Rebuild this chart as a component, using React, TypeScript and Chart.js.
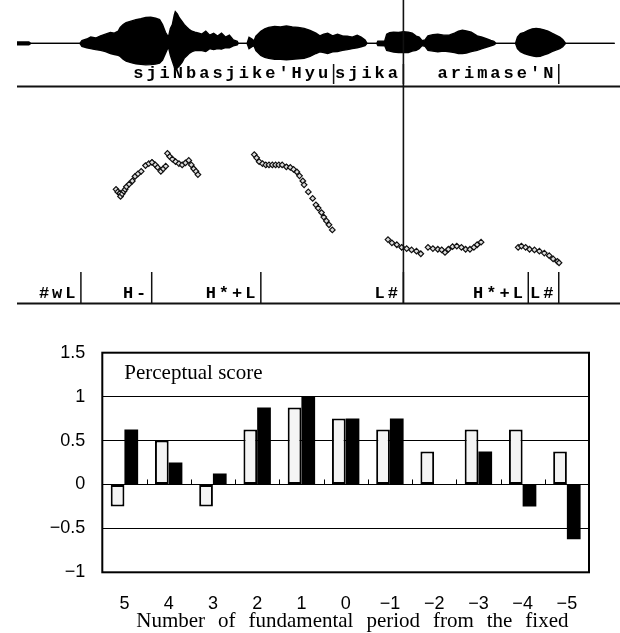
import React, { useEffect, useRef } from 'react';
import { Chart, registerables } from 'chart.js';

Chart.register(...registerables);
Chart.defaults.font.family = "'Liberation Sans', Arial, sans-serif";

// ---------------- Upper figure: waveform, F0 contour, label tiers ----------------
// time axis in arbitrary frame units
const waveTime = [12, 24, 26, 76, 78, 83, 87, 92, 97, 102, 107, 111, 115, 117, 120, 123, 128, 133, 138, 143, 148, 153, 157, 160, 163, 166, 168, 170, 172, 173, 175, 177, 180, 182, 185, 187, 190, 193, 197, 200, 204, 208, 212, 216, 220, 224, 228, 232, 236, 237, 246, 248, 251, 253, 255, 257, 260, 264, 268, 274, 280, 286, 292, 298, 304, 310, 316, 320, 324, 328, 333, 338, 343, 348, 353, 358, 362, 366, 368, 378, 379, 386, 388, 391, 395, 400, 405, 410, 414, 418, 421, 424, 427, 430, 435, 440, 446, 452, 457, 461, 465, 469, 474, 480, 485, 490, 494, 497, 499, 519, 521, 524, 528, 532, 536, 540, 544, 548, 552, 556, 560, 564, 567, 570, 620];
const waveUpper = [0.06, 0.06, 0, 0, 0.11, 0.18, 0.26, 0.22, 0.31, 0.38, 0.45, 0.42, 0.51, 0.66, 0.78, 0.86, 0.92, 0.98, 1.02, 1.07, 1.08, 1.04, 0.98, 0.78, 0.46, 0.26, 0.62, 0.78, 1.18, 1.31, 1.22, 1.06, 0.9, 0.78, 0.66, 0.58, 0.5, 0.46, 0.42, 0.38, 0.5, 0.34, 0.42, 0.3, 0.42, 0.26, 0.34, 0.14, 0.08, 0, 0, 0.25, 0.18, 0.1, 0.3, 0.38, 0.5, 0.6, 0.66, 0.7, 0.68, 0.72, 0.68, 0.66, 0.62, 0.54, 0.42, 0.31, 0.38, 0.42, 0.31, 0.38, 0.31, 0.3, 0.26, 0.34, 0.26, 0.14, 0, 0, 0.09, 0.1, 0.38, 0.44, 0.46, 0.45, 0.48, 0.46, 0.42, 0.3, 0.26, 0.11, 0.14, 0.31, 0.36, 0.38, 0.34, 0.35, 0.42, 0.5, 0.54, 0.51, 0.46, 0.31, 0.26, 0.18, 0.12, 0.08, 0, 0, 0.26, 0.4, 0.45, 0.54, 0.6, 0.62, 0.6, 0.56, 0.51, 0.42, 0.34, 0.26, 0.16, 0, 0];
const waveLower = [-0.06, -0.06, 0, 0, -0.13, -0.18, -0.22, -0.26, -0.29, -0.34, -0.42, -0.46, -0.5, -0.54, -0.66, -0.74, -0.8, -0.85, -0.87, -0.89, -0.88, -0.86, -0.82, -0.69, -0.42, -0.14, -0.5, -0.74, -0.98, -1.09, -1.02, -0.94, -0.78, -0.62, -0.5, -0.42, -0.34, -0.3, -0.3, -0.3, -0.34, -0.22, -0.26, -0.22, -0.24, -0.18, -0.18, -0.1, -0.06, 0, 0, -0.22, -0.14, -0.1, -0.3, -0.38, -0.5, -0.58, -0.62, -0.66, -0.66, -0.68, -0.66, -0.64, -0.62, -0.54, -0.42, -0.35, -0.38, -0.42, -0.35, -0.34, -0.29, -0.26, -0.22, -0.18, -0.14, -0.09, 0, 0, -0.09, -0.1, -0.29, -0.32, -0.36, -0.38, -0.38, -0.38, -0.32, -0.29, -0.22, -0.09, -0.12, -0.29, -0.32, -0.35, -0.32, -0.35, -0.38, -0.42, -0.42, -0.4, -0.34, -0.29, -0.22, -0.15, -0.1, -0.06, 0, 0, -0.22, -0.34, -0.42, -0.48, -0.52, -0.55, -0.54, -0.48, -0.42, -0.34, -0.28, -0.22, -0.14, 0, 0];

const pitchTime = [112.7, 114.5, 116.7, 117.3, 119, 120.7, 122, 123.3, 126, 129.3, 132, 135, 138.3, 142.7, 146, 149.3, 152.7, 155, 158.3, 160.7, 163.3,
  165, 167.3, 170, 173.3, 176.7, 180, 183.3, 186.7, 189.3, 191.7, 194, 196,
  253.3, 255.7, 258.3, 261.7, 265, 268.3, 271.7, 275, 278.3, 281.7, 286, 290, 293.3, 296.7, 299.3, 302.7, 304, 308.3, 312.7, 316, 318.3, 321.7, 324, 326.7, 329.3, 332.7,
  389.3, 393.3, 398.3, 403.3, 408.3, 413.3, 418.3, 422.7,
  430, 435, 440, 444, 447.3, 450.7, 455, 459.3, 464, 468.3, 472.7, 476.7, 480, 484,
  521.7, 525, 529.3, 533.3, 538.3, 543.3, 548.3, 553.3, 557.3, 561.7, 563.3];
const pitchHz = [214, 210, 208, 203, 207, 211, 214, 218, 222, 227, 234, 238, 242, 251, 254, 256, 252, 248, 242, 246, 250,
  270, 265, 261, 257, 254, 252, 255, 259, 252, 246, 242, 237,
  268, 263, 257, 254, 252, 252, 252, 252, 252, 252, 249, 248, 245, 241, 235, 227, 221, 210, 200, 190, 185, 178, 171, 165, 159, 151,
  136, 131, 128, 124, 122, 120, 118, 114,
  124, 122, 121, 120, 116, 121, 125, 126, 124, 121, 121, 124, 128, 132,
  124, 126, 124, 121, 120, 118, 115, 111, 106, 102, 100];
const pitchMarkTime = [149.3, 265, 286, 403.3, 444];
const pitchMarkHz = [256, 252, 249, 124, 120];

const markerTime = 405;
const wordLabels = ["sjiNbasjike'Hyu", 'sjika', "arimase'N"];
const wordEnds = [334, 405, 563];
const toneLabels = ['#wL', 'H-', 'H*+L', 'L#', 'H*+L', 'L#'];
const toneEnds = [77, 149, 260, 405, 532, 563];

// ---------------- Lower figure: bar chart ----------------
const categories = ['5', '4', '3', '2', '1', '0', '\u22121', '\u22122', '\u22123', '\u22124', '\u22125'];
const seriesWhite = [-0.25, 0.5, -0.25, 0.625, 0.875, 0.75, 0.625, 0.375, 0.625, 0.625, 0.375];
const seriesBlack = [0.625, 0.25, 0.125, 0.875, 1.0, 0.75, 0.75, 0, 0.375, -0.25, -0.625];
const yMin = -1;
const yMax = 1.5;
const yStep = 0.5;
const innerTitle = 'Perceptual score';
const xTitleWords = ['Number', 'of', 'fundamental', 'period', 'from', 'the', 'fixed'];

const tierPlugin = {
  id: 'tiers',
  afterDraw(chart: any) {
    const ctx = chart.ctx as CanvasRenderingContext2D;
    const xs = chart.scales.x;
    const x0 = xs.getPixelForValue(waveTime[0]);
    const x1 = chart.width;
    ctx.save();
    ctx.strokeStyle = '#111';
    ctx.lineWidth = 2;
    const hline = (y: number) => { ctx.beginPath(); ctx.moveTo(x0, y); ctx.lineTo(x1, y); ctx.stroke(); };
    hline(86.5);
    hline(303.5);
    const mx = xs.getPixelForValue(markerTime);
    ctx.lineWidth = 1.6;
    ctx.beginPath(); ctx.moveTo(mx, 0); ctx.lineTo(mx, 303); ctx.stroke();

    const adv = 13.2;
    const drawTier = (labels: string[], ends: number[], baseline: number, barTop: number, barBottom: number) => {
      ctx.font = "bold 17px 'Liberation Mono', monospace";
      ctx.fillStyle = '#000';
      ctx.textAlign = 'center';
      ctx.textBaseline = 'alphabetic';
      labels.forEach((lab, k) => {
        const bx = xs.getPixelForValue(ends[k]);
        const n = lab.length;
        for (let i = 0; i < n; i++) {
          const cx = bx - 5.5 - 5 - (n - 1 - i) * adv;
          ctx.fillText(lab[i], cx, baseline);
        }
        ctx.lineWidth = 1.5;
        ctx.beginPath(); ctx.moveTo(bx, barTop); ctx.lineTo(bx, barBottom); ctx.stroke();
      });
    };
    drawTier(wordLabels, wordEnds, 78, 64, 84);
    drawTier(toneLabels, toneEnds, 298, 272, 303);
    ctx.restore();
  },
};

const barPlugin = {
  id: 'barDecor',
  afterDatasetsDraw(chart: any) {
    const ctx = chart.ctx as CanvasRenderingContext2D;
    const a = chart.chartArea;
    const xs = chart.scales.x;
    const ys = chart.scales.y;
    ctx.save();
    ctx.strokeStyle = '#000';
    ctx.lineWidth = 1;
    const zy = ys.getPixelForValue(0);
    for (let i = 0; i < categories.length - 1; i++) {
      const px = Math.round((xs.getPixelForValue(i) + xs.getPixelForValue(i + 1)) / 2) + 0.5;
      ctx.beginPath(); ctx.moveTo(px, zy); ctx.lineTo(px, zy - 5); ctx.stroke();
    }
    ctx.lineWidth = 2;
    ctx.strokeRect(a.left, a.top, a.right - a.left, a.bottom - a.top);

    ctx.fillStyle = '#000';
    ctx.font = "21px 'Liberation Serif', 'Times New Roman', serif";
    ctx.textAlign = 'left';
    ctx.textBaseline = 'middle';
    ctx.fillText(innerTitle, a.left + 22, a.top + 21);

    // x-axis title, justified across the width
    const left = a.left + 34;
    const right = a.right - 20.5;
    const widths = xTitleWords.map((w) => ctx.measureText(w).width);
    const total = widths.reduce((s, w) => s + w, 0);
    const gap = (right - left - total) / (xTitleWords.length - 1);
    ctx.textBaseline = 'alphabetic';
    let x = left;
    xTitleWords.forEach((w, i) => {
      ctx.fillText(w, x, a.bottom + 54.5);
      x += widths[i] + gap;
    });
    ctx.restore();
  },
};

function TopFigure() {
  const ref = useRef<HTMLCanvasElement>(null);
  useEffect(() => {
    const chart = new Chart(ref.current as HTMLCanvasElement, {
      type: 'line',
      data: {
        datasets: [
          {
            data: waveTime.map((t, i) => ({ x: t, y: waveUpper[i] })),
            yAxisID: 'amp',
            borderColor: '#000',
            backgroundColor: '#000',
            borderWidth: 1.4,
            fill: '+1',
            pointRadius: 0,
            tension: 0,
          },
          {
            data: waveTime.map((t, i) => ({ x: t, y: waveLower[i] })),
            yAxisID: 'amp',
            borderColor: '#000',
            borderWidth: 1.4,
            fill: false,
            pointRadius: 0,
            tension: 0,
          },
          {
            data: pitchTime.map((t, i) => ({ x: t, y: pitchHz[i] })),
            yAxisID: 'f0',
            showLine: false,
            pointStyle: 'rectRot',
            pointRadius: 2.8,
            pointBackgroundColor: '#ddd',
            pointBorderColor: '#111',
            pointBorderWidth: 1.2,
          },
          {
            data: pitchMarkTime.map((t, i) => ({ x: t, y: pitchMarkHz[i] })),
            yAxisID: 'f0',
            showLine: false,
            pointStyle: 'rectRot',
            pointRadius: 2.8,
            pointBackgroundColor: '#000',
            pointBorderColor: '#000',
            pointBorderWidth: 1,
          },
        ],
      },
      options: {
        responsive: false,
        maintainAspectRatio: false,
        animation: false,
        layout: { padding: 0 },
        plugins: { legend: { display: false }, tooltip: { enabled: false } },
        scales: {
          x: { type: 'linear', min: 0, max: 620, display: false },
          amp: { type: 'linear', axis: 'y', min: -10.62, max: 1.58, display: false },
          f0: { type: 'linear', axis: 'y', min: 42.5, max: 500, display: false },
        },
      } as any,
      plugins: [tierPlugin],
    });
    return () => chart.destroy();
  }, []);
  return <canvas ref={ref} width={620} height={305} style={{ position: 'absolute', left: 0, top: 0, display: 'block' }} />;
}

function BarFigure() {
  const ref = useRef<HTMLCanvasElement>(null);
  useEffect(() => {
    const chart = new Chart(ref.current as HTMLCanvasElement, {
      type: 'bar',
      data: {
        labels: categories,
        datasets: [
          {
            data: seriesWhite,
            backgroundColor: '#f4f4f4',
            borderColor: '#000',
            borderWidth: 2,
            borderSkipped: false,
            categoryPercentage: 0.62,
            barPercentage: 1,
          },
          {
            data: seriesBlack,
            backgroundColor: '#000',
            borderColor: '#000',
            borderWidth: 0,
            categoryPercentage: 0.62,
            barPercentage: 1,
          },
        ],
      },
      options: {
        responsive: false,
        maintainAspectRatio: false,
        animation: false,
        layout: { padding: { top: 32.7, right: 31, bottom: 0, left: 0 } },
        plugins: { legend: { display: false }, tooltip: { enabled: false } },
        scales: {
          x: {
            grid: { display: false, drawTicks: false },
            border: { display: false },
            ticks: { color: '#000', font: { size: 18 }, padding: 21, maxRotation: 0, autoSkip: false },
            afterFit: (s: any) => { s.height = 60.7; },
          },
          y: {
            min: yMin,
            max: yMax,
            ticks: {
              stepSize: yStep,
              color: '#000',
              font: { size: 18 },
              padding: 17,
              callback: (v: any) => (Number(v) < 0 ? '\u2212' : '') + String(Math.abs(Number(v))),
            },
            grid: { color: '#000', lineWidth: 1, drawTicks: false },
            border: { display: false },
            afterFit: (s: any) => { s.width = 102.3; },
          },
        },
      } as any,
      plugins: [barPlugin],
    });
    return () => chart.destroy();
  }, []);
  return <canvas ref={ref} width={620} height={313} style={{ position: 'absolute', left: 0, top: 320, display: 'block' }} />;
}

export default function App() {
  return (
    <div style={{ position: 'absolute', left: 0, top: 0, width: 620, height: 633, background: '#fff', overflow: 'hidden' }}>
      <TopFigure />
      <BarFigure />
    </div>
  );
}
